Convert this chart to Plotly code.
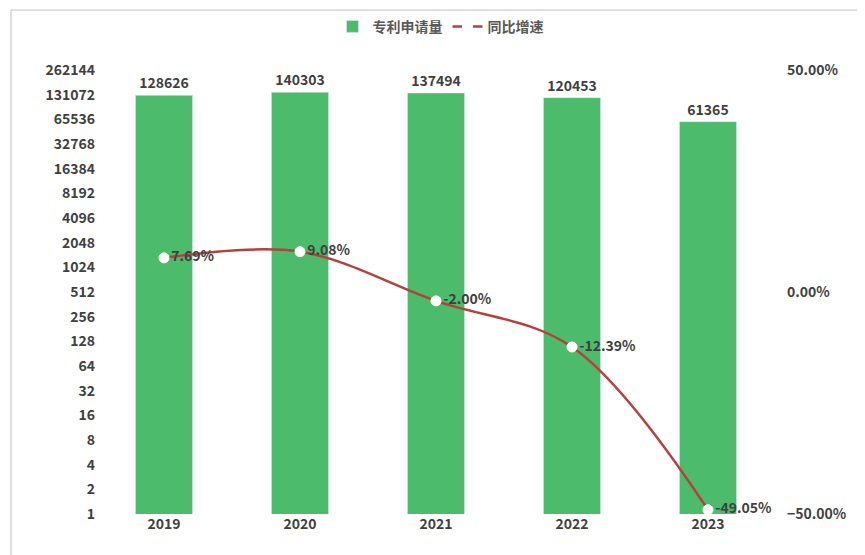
import plotly.graph_objects as go

years = ["2019", "2020", "2021", "2022", "2023"]
applications = [128626, 140303, 137494, 120453, 61365]
growth = [0.0769, 0.0908, -0.0200, -0.1239, -0.4905]
left_ticks = [2 ** i for i in range(19)]

font = dict(family="Noto Sans CJK SC", size=14, color="#404040", weight="bold")

bars = go.Bar(x=years, y=applications, name="专利申请量", marker_color="#4cbb6c",
              width=0.42, text=[str(v) for v in applications], textposition="outside",
              textfont=dict(size=14, color="#404040", family="Noto Sans CJK SC", weight="bold"),
              cliponaxis=False)
line = go.Scatter(x=years, y=growth, name="同比增速", yaxis="y2", mode="lines+markers+text",
                  line=dict(color="#b5413f", width=2.5, shape="spline", smoothing=1.0),
                  marker=dict(size=10, color="white", line=dict(color="white", width=1)),
                  text=["%.2f%%" % (g * 100) for g in growth], textposition="middle right",
                  textfont=dict(size=14, color="#404040", family="Noto Sans CJK SC", weight="bold"),
                  cliponaxis=False)

fig = go.Figure(data=[bars, line])
fig.update_layout(
    width=865, height=555, font=font,
    paper_bgcolor="white", plot_bgcolor="white",
    margin=dict(l=88, r=97, t=62, b=49, autoexpand=False),
    showlegend=True,
    legend=dict(orientation="h", x=0.5, xanchor="center", xref="container",
                y=0.995, yanchor="top", yref="container",
                font=dict(size=14, color="#595959")),
    xaxis=dict(showgrid=False, showline=False, ticks="", tickfont=dict(size=14, color="#404040")),
    yaxis=dict(type="log", range=[0, 5.41854], tickvals=left_ticks,
               ticktext=[str(v) for v in left_ticks], showgrid=False, zeroline=False,
               tickfont=dict(size=14, color="#404040")),
    yaxis2=dict(overlaying="y", side="right", range=[-0.5, 0.5], tickvals=[-0.5, 0, 0.5],
                tickformat=".2%", showgrid=False, zeroline=False, ticklabelstandoff=10,
                tickfont=dict(size=14, color="#404040")),
    shapes=[dict(type="rect", xref="paper", yref="paper", x0=-0.125, x1=1.14, y0=-0.11, y1=1.135,
                 line=dict(color="#bfbfbf", width=1))],
)
fig.write_html("out.html")
